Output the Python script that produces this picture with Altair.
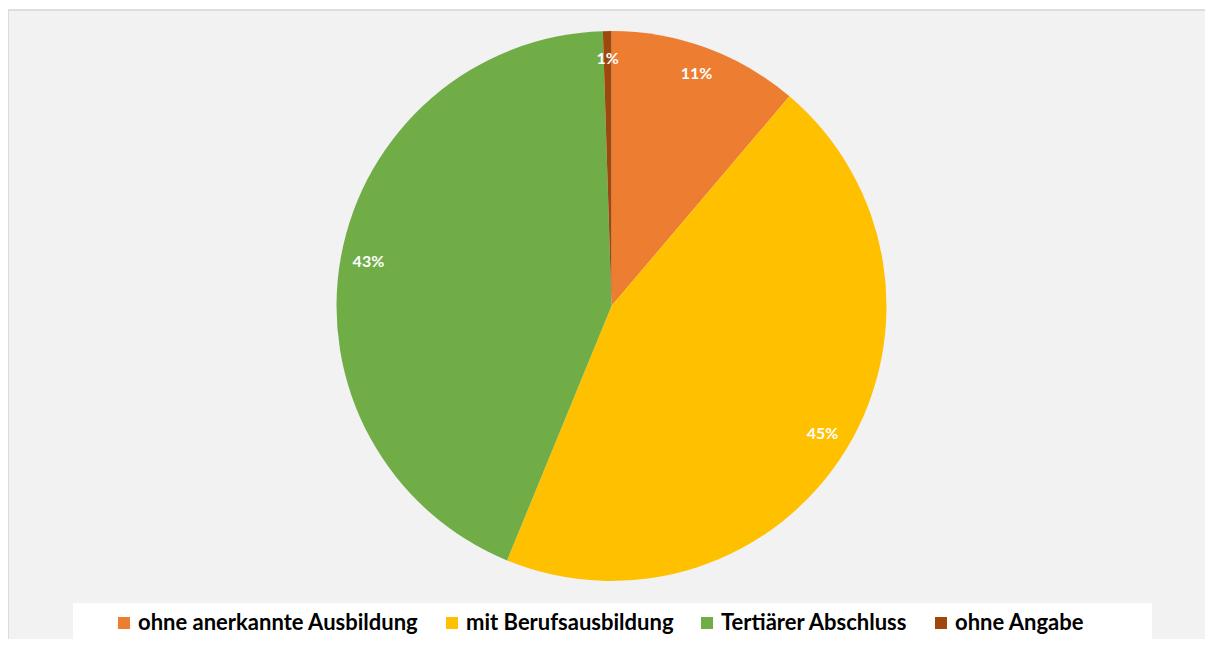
import altair as alt
import pandas as pd

categories = ["ohne anerkannte Ausbildung", "mit Berufsausbildung", "Tertiärer Abschluss", "ohne Angabe"]
shares = [11.2, 45.0, 43.3, 0.5]
labels = ["11%", "45%", "43%", "1%"]
colors = ["#ED7D31", "#FFC000", "#70AD47", "#9E480E"]

df = pd.DataFrame({
    "cat": categories,
    "share": shares,
    "label": labels,
    "ord": list(range(len(categories))),
})

one = pd.DataFrame({"k": [0]})

# chart background panel, extends past the window right/bottom
panel = alt.Chart(one).mark_rect(fill="#f2f2f2").encode(
    x=alt.value(0), x2=alt.value(1230), y=alt.value(2), y2=alt.value(660)
)
# border lines on top and left
border_top = alt.Chart(one).mark_rule(color="#d4d4d4", strokeWidth=1.5).encode(
    x=alt.value(0), x2=alt.value(1230), y=alt.value(2)
)
border_left = alt.Chart(one).mark_rule(color="#d4d4d4", strokeWidth=1.5).encode(
    x=alt.value(0), y=alt.value(2), y2=alt.value(660)
)

# white legend box
legend_box = alt.Chart(one).mark_rect(fill="#ffffff").encode(
    x=alt.value(65), x2=alt.value(1144), y=alt.value(595), y2=alt.value(640)
)

base = alt.Chart(df).encode(
    theta=alt.Theta("share:Q", stack=True),
    order=alt.Order("ord:Q"),
)

pie = base.mark_arc(radius=275, x=603.5, y=298).encode(
    color=alt.Color(
        "cat:N",
        sort=categories,
        scale=alt.Scale(domain=categories, range=colors),
        legend=alt.Legend(
            title=None,
            orient="none",
            legendX=105,
            legendY=604,
            direction="horizontal",
            columns=4,
            symbolType="square",
            symbolSize=144,
            symbolStrokeWidth=0,
            symbolOpacity=1,
            labelFont="Lato",
            labelFontSize=22,
            labelFontWeight="bold",
            labelColor="#000000",
            labelLimit=0,
            labelOffset=3,
            columnPadding=22,
            padding=0,
        ),
    )
)

text = base.mark_text(
    radius=247, x=603.5, y=298,
    font="Lato", fontSize=16, fontWeight="bold", color="#ffffff",
).encode(text="label:N")

chart = (
    alt.layer(panel, border_top, border_left, legend_box, pie, text)
    .properties(
        width=1197, height=631, padding=0, background="#ffffff",
        autosize=alt.AutoSizeParams(type="none"),
    )
    .configure_view(stroke=None)
)

chart.save("out.html", embed_options={"renderer": "svg", "actions": False})
